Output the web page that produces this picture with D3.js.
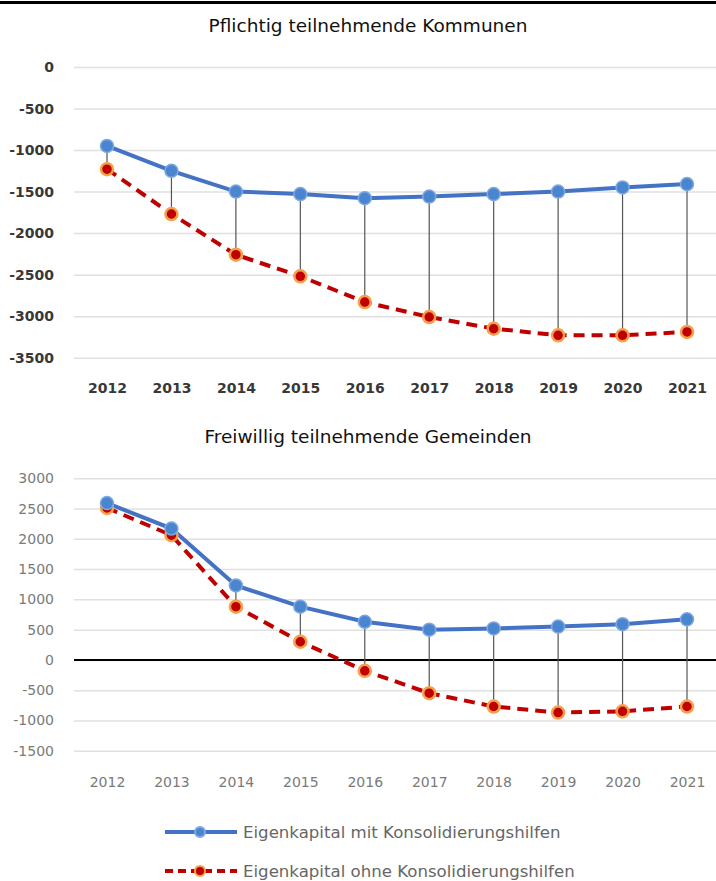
<!DOCTYPE html>
<html><head><meta charset="utf-8">
<script src="https://cdn.jsdelivr.net/npm/d3@7"></script>
<style>body{margin:0;background:#fff}svg{display:block}</style>
</head><body>
<svg id="c" width="716" height="881"></svg>
<script>
const years = ["2012","2013","2014","2015","2016","2017","2018","2019","2020","2021"];
const topTitle = "Pflichtig teilnehmende Kommunen";
const topMit   = [-950,-1250,-1500,-1530,-1580,-1560,-1530,-1500,-1450,-1410];
const topOhne  = [-1230,-1770,-2260,-2520,-2830,-3010,-3150,-3230,-3230,-3190];
const topTicks = [0,-500,-1000,-1500,-2000,-2500,-3000,-3500];
const botTitle = "Freiwillig teilnehmende Gemeinden";
const botMit   = [2590,2170,1230,880,630,500,520,550,590,670];
const botOhne  = [2510,2060,880,300,-180,-550,-770,-870,-850,-770];
const botTicks = [3000,2500,2000,1500,1000,500,0,-500,-1000,-1500];
const legendLabels = ["Eigenkapital mit Konsolidierungshilfen","Eigenkapital ohne Konsolidierungshilfen"];

const svg = d3.select("#c");
const FONT = "'DejaVu Sans', sans-serif";
const BLUE = "#4472c4", RED = "#c00000";

svg.append("rect").attr("x",0).attr("y",1).attr("width",716).attr("height",3).attr("fill","#000");

const x = d3.scalePoint().domain(years).range([107,687]);

function panel(o){
  const y = d3.scaleLinear().domain([d3.min(o.ticks), d3.max(o.ticks)]).range([o.y1, o.y0]);
  const g = svg.append("g");
  g.append("text").attr("x",368).attr("y",o.titleY).attr("text-anchor","middle")
    .attr("font-family",FONT).attr("font-size",18.5).attr("fill","#111").text(o.title);
  const ax = d3.axisLeft(y).tickValues(o.ticks).tickSize(-(716-74)).tickPadding(20).tickFormat(d => String(d));
  const ag = g.append("g").attr("transform","translate(74,0)").call(ax);
  ag.select(".domain").remove();
  ag.selectAll(".tick line").attr("stroke","#e0e0e0").attr("stroke-width",1.5);
  ag.selectAll(".tick text").attr("font-family",FONT).attr("font-size",14)
    .attr("font-weight",o.bold?"bold":"normal").attr("fill",o.labelColor).attr("x",-20);
  if (o.zero){
    g.append("line").attr("x1",74).attr("x2",716).attr("y1",y(0)).attr("y2",y(0))
      .attr("stroke","#000").attr("stroke-width",2);
  }
  const xa = d3.axisBottom(x).tickSize(0).tickPadding(0);
  const xg = g.append("g").attr("transform",`translate(0,${o.xLabelY})`).call(xa);
  xg.select(".domain").remove();
  xg.selectAll(".tick text").attr("font-family",FONT).attr("font-size",14)
    .attr("font-weight",o.bold?"bold":"normal").attr("fill",o.labelColor).attr("dy","0.35em");
  g.selectAll(".drop").data(years).join("line")
    .attr("x1",d=>x(d)).attr("x2",d=>x(d))
    .attr("y1",(d,i)=>y(o.mit[i])).attr("y2",(d,i)=>y(o.ohne[i]))
    .attr("stroke","#555").attr("stroke-width",1.2);
  const line = d3.line().x((d,i)=>x(years[i])).y(d=>y(d));
  g.append("path").attr("d",line(o.ohne)).attr("fill","none").attr("stroke",RED)
    .attr("stroke-width",4).attr("stroke-dasharray","11,7");
  g.append("path").attr("d",line(o.mit)).attr("fill","none").attr("stroke",BLUE)
    .attr("stroke-width",4);
  g.selectAll(".mo").data(o.ohne).join("circle")
    .attr("cx",(d,i)=>x(years[i])).attr("cy",d=>y(d)).attr("r",6)
    .attr("fill",RED).attr("stroke","#f5a04a").attr("stroke-width",2.5);
  g.selectAll(".mm").data(o.mit).join("circle")
    .attr("cx",(d,i)=>x(years[i])).attr("cy",d=>y(d)).attr("r",6.5)
    .attr("fill","#4a86d0").attr("stroke","#7fa8e0").attr("stroke-width",1.5);
}

panel({title:topTitle,titleY:32,mit:topMit,ohne:topOhne,ticks:topTicks,y0:67,y1:357.7,
  xLabelY:388,bold:true,labelColor:"#383838",zero:false});
panel({title:botTitle,titleY:443,mit:botMit,ohne:botOhne,ticks:botTicks,y0:478.3,y1:750.7,
  xLabelY:782,bold:false,labelColor:"#7a7a7a",zero:true});

const leg = svg.append("g");
const rows = [{y:832,c:BLUE,dash:null,mf:"#4a86d0",ms:"#7fa8e0"},{y:871,c:RED,dash:"8,5",mf:RED,ms:"#f5a04a"}];
rows.forEach((r,i)=>{
  leg.append("line").attr("x1",165).attr("x2",237).attr("y1",r.y).attr("y2",r.y)
    .attr("stroke",r.c).attr("stroke-width",4).attr("stroke-dasharray",r.dash);
  leg.append("circle").attr("cx",200).attr("cy",r.y).attr("r",5).attr("fill",r.mf).attr("stroke",r.ms).attr("stroke-width",2);
  leg.append("text").attr("x",243).attr("y",r.y).attr("dy","0.35em").attr("font-family",FONT)
    .attr("font-size",16.6).attr("fill","#666").text(legendLabels[i]);
});
</script>
</body></html>
